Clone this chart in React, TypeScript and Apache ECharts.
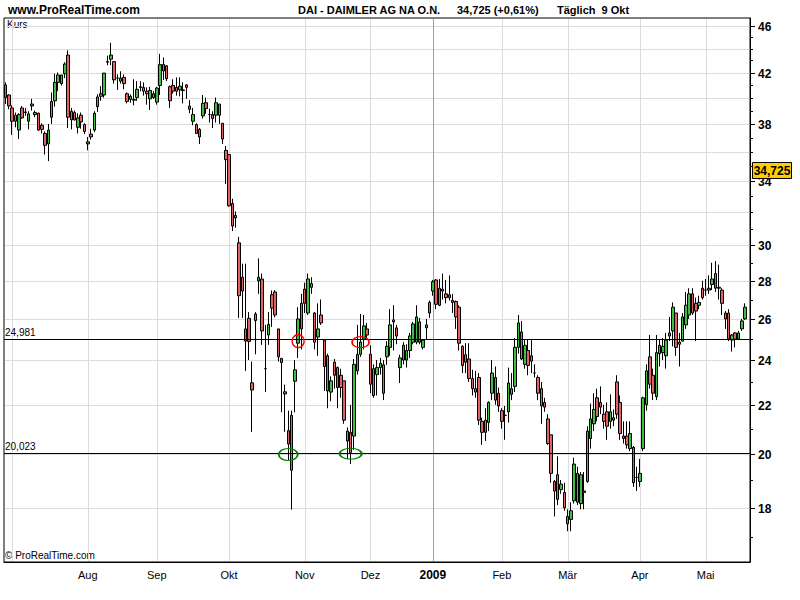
import React, { useEffect, useRef } from "react";
import * as echarts from "echarts";

// ---- data (DAI daily candles) ----
// order of each candle: open, close, low, high (arrays kept separate)
const opens: number[] = [
  41.0, 40.2, 39.2, 38.65, 37.55, 39.2, 38.9, 38.2, 39.35, 38.7,
  38.8, 37.9, 37.3, 36.55, 38.5, 39.75, 41.2, 41.8, 41.9, 43.45,
  38.3, 38.85, 37.75, 38.65, 37.95, 36.55, 37.25, 37.55, 39.3, 40.1,
  40.2, 42.9, 43.1, 42.9, 41.55, 41.3, 41.6, 40.3, 39.85, 39.8,
  40.0, 40.8, 40.5, 40.5, 39.9, 40.3, 39.65, 40.95, 42.13, 42.55,
  40.85, 40.95, 40.8, 40.6, 40.6, 41.0, 39.35, 38.2, 37.95, 37.6,
  38.6, 39.6, 38.7, 38.7, 38.65, 39.5, 38.05, 36.1, 35.8, 32.55,
  31.65, 30.15, 28.2, 25.5, 26.03, 22.96, 25.92, 28.0, 28.1, 23.6,
  25.2, 27.25, 27.4, 25.5, 24.08, 22.56, 20.92, 21.55, 23.03, 24.8,
  25.5, 27.55, 26.3, 27.85, 26.3, 25.1, 26.2, 24.95, 24.2, 22.55,
  23.9, 23.65, 23.3, 23.05, 20.9, 20.85, 20.7, 23.5, 24.27, 25.0,
  25.5, 24.27, 22.4, 23.33, 23.65, 23.78, 24.15, 24.6, 25.85, 25.55,
  23.65, 24.7, 24.0, 24.45, 24.85, 24.85, 25.85, 24.6, 25.55, 26.3,
  27.45, 28.05, 26.7, 27.55, 27.3, 27.25, 26.95, 26.9, 26.6, 24.65,
  24.25, 24.05, 23.15, 22.55, 23.2, 21.3, 20.85, 21.25, 22.5, 23.2,
  22.5, 21.75, 21.55, 21.7, 22.45, 22.8, 24.6, 25.35, 23.8, 24.45,
  23.95, 23.4, 23.2, 22.7, 22.1, 21.4, 20.75, 18.95, 19.2, 18.65,
  18.55, 17.7, 17.6, 18.25, 19.25, 18.15, 18.6, 18.95, 20.6, 21.2,
  22.3, 22.1, 21.6, 21.7, 21.3, 21.45, 23.0, 22.1, 20.7, 20.7, 20.2,
  20.25, 19.1, 18.95, 20.2, 22.0, 24.15, 23.3, 22.35, 24.3, 24.35,
  24.2, 25.15, 25.4, 26.3, 24.85, 24.9, 25.7, 26.2, 27.3, 26.8,
  26.7, 27.6, 27.5, 27.5, 27.8, 28.4, 27.65, 27.5, 26.3, 26.3,
  24.95, 25.3, 25.0, 25.5, 26.0,
];
const closes: number[] = [
  40.0, 39.35, 38.2, 38.2, 38.7, 38.45, 38.85, 38.75, 39.5, 38.85,
  37.55, 37.6, 36.45, 37.55, 39.7, 41.2, 41.8, 41.1, 42.7, 38.5,
  38.95, 38.3, 38.45, 38.15, 37.45, 36.7, 37.05, 38.8, 40.05, 40.3,
  41.95, 42.85, 43.45, 41.4, 41.55, 41.55, 41.1, 39.7, 40.1, 39.85,
  40.65, 40.85, 40.8, 40.3, 40.55, 40.0, 40.75, 42.65, 42.67, 41.5,
  39.75, 40.5, 40.5, 40.9, 40.55, 40.8, 39.1, 38.7, 37.3, 37.05,
  39.55, 39.15, 38.7, 38.4, 39.6, 38.65, 36.9, 35.45, 32.4, 31.15,
  31.8, 27.2, 27.45, 24.9, 24.88, 22.64, 26.25, 28.2, 25.4, 23.6,
  25.72, 26.55, 26.2, 24.15, 23.88, 22.47, 20.38, 19.37, 23.55, 26.0,
  26.8, 26.8, 28.1, 27.65, 24.85, 25.5, 25.8, 23.7, 22.6, 23.05,
  23.3, 22.75, 22.75, 21.35, 20.5, 20.05, 23.8, 24.27, 24.86, 25.65,
  25.2, 22.9, 23.6, 23.65, 23.85, 22.5, 24.65, 25.7, 25.95, 25.15,
  24.1, 24.0, 24.45, 25.15, 25.75, 26.1, 24.85, 24.95, 25.7, 26.85,
  27.95, 26.75, 27.6, 27.45, 27.1, 27.1, 26.85, 26.1, 24.8, 23.75,
  23.9, 23.15, 22.7, 22.7, 21.35, 20.85, 21.35, 22.1, 23.4, 22.2,
  21.95, 21.3, 21.55, 22.95, 22.7, 24.6, 25.8, 24.05, 24.7, 23.75,
  24.2, 23.4, 22.5, 21.95, 21.9, 20.4, 19.25, 18.6, 18.3, 18.85,
  18.0, 17.45, 17.9, 19.6, 18.2, 19.2, 18.55, 20.9, 21.4, 21.8,
  21.5, 21.9, 21.3, 21.1, 21.7, 21.35, 21.6, 20.8, 20.6, 20.35, 20.8,
  18.9, 19.1, 19.25, 22.3, 23.5, 22.9, 22.5, 24.35, 24.7, 24.65,
  24.95, 25.3, 26.6, 24.6, 24.75, 26.1, 26.7, 27.3, 26.3, 26.4,
  26.85, 27.1, 27.5, 27.6, 28.1, 27.6, 27.6, 26.8, 26.0, 25.0,
  25.2, 25.0, 25.3, 25.9, 26.6,
];
const lows: number[] = [
  39.5, 39.1, 37.2, 37.75, 36.9, 38.4, 38.6, 37.6, 39.0, 38.5,
  37.5, 37.3, 35.8, 35.35, 38.0, 39.3, 40.5, 40.95, 41.55, 37.7,
  37.6, 38.25, 37.3, 37.65, 37.25, 36.1, 36.85, 37.4, 38.9, 39.75,
  40.0, 42.6, 42.6, 41.1, 40.6, 41.1, 40.65, 39.55, 39.6, 39.4,
  39.75, 40.5, 40.15, 39.45, 39.05, 39.9, 39.45, 40.2, 41.4, 41.3,
  39.2, 40.3, 40.15, 40.1, 39.55, 39.9, 38.8, 37.9, 37.3, 36.55,
  38.4, 38.75, 38.1, 37.7, 38.1, 38.0, 36.55, 33.8, 32.35, 30.85,
  31.05, 26.05, 26.05, 23.5, 24.0, 20.87, 24.27, 27.3, 24.72, 22.55,
  24.72, 25.6, 26.08, 23.93, 21.68, 20.87, 19.72, 17.94, 21.68, 24.1,
  24.5, 26.3, 26.2, 27.3, 24.5, 24.2, 25.7, 22.6, 21.85, 22.15,
  22.7, 21.85, 22.3, 21.2, 19.8, 19.6, 20.15, 23.33, 24.15, 24.5,
  25.0, 22.5, 22.3, 22.4, 23.33, 22.2, 23.78, 24.2, 24.45, 24.75,
  22.95, 23.8, 23.65, 24.1, 24.75, 24.75, 24.75, 24.5, 25.0, 26.05,
  27.2, 26.5, 26.65, 27.0, 26.8, 26.95, 26.3, 25.5, 24.45, 23.4,
  23.4, 23.0, 22.4, 22.3, 21.15, 20.35, 20.5, 20.9, 22.2, 22.0,
  21.7, 21.0, 20.55, 21.25, 22.2, 22.55, 24.3, 24.0, 23.6, 23.3,
  23.4, 23.2, 22.2, 21.2, 21.7, 20.35, 18.9, 17.7, 18.1, 18.5,
  17.9, 17.2, 17.2, 18.15, 18.1, 17.95, 17.95, 18.9, 20.2, 20.9,
  21.3, 21.6, 21.0, 20.55, 21.0, 21.1, 21.4, 20.55, 20.4, 20.2, 20.1,
  18.75, 18.6, 18.75, 20.1, 21.75, 22.7, 22.2, 22.2, 23.7, 24.0,
  23.6, 24.9, 24.65, 24.2, 23.7, 24.9, 25.5, 26.0, 26.2, 24.9,
  26.5, 27.0, 27.2, 27.3, 27.5, 27.4, 27.0, 26.2, 25.5, 24.9,
  24.4, 24.6, 24.95, 25.4, 25.95,
];
const highs: number[] = [
  41.2, 40.25, 39.4, 38.85, 38.8, 39.35, 39.2, 38.95, 39.9, 39.0,
  38.85, 38.05, 37.45, 38.0, 40.4, 41.9, 42.0, 41.8, 42.85, 43.85,
  39.2, 39.0, 38.8, 38.85, 38.05, 37.05, 37.65, 38.95, 40.25, 40.9,
  41.95, 43.4, 44.5, 42.9, 41.85, 42.1, 41.85, 40.4, 40.25, 41.45,
  41.3, 41.3, 41.2, 40.8, 40.85, 40.5, 40.85, 43.55, 43.25, 42.6,
  40.95, 41.45, 41.6, 41.6, 41.2, 41.05, 39.8, 39.2, 38.05, 37.7,
  40.2, 40.0, 39.15, 38.95, 40.0, 39.5, 38.05, 36.4, 35.85, 32.85,
  32.05, 30.5, 28.95, 28.95, 26.35, 23.93, 26.35, 29.25, 28.4, 25.7,
  26.35, 27.48, 27.5, 25.5, 24.08, 22.88, 21.75, 21.75, 24.0, 26.6,
  27.3, 27.9, 28.4, 28.2, 26.35, 26.8, 27.0, 24.95, 24.3, 23.25,
  24.05, 23.7, 23.6, 23.05, 21.05, 22.0, 24.05, 25.7, 26.25, 26.2,
  25.8, 24.7, 23.8, 24.0, 24.1, 24.0, 24.9, 26.5, 26.7, 25.7,
  24.25, 24.85, 24.75, 25.3, 25.85, 26.7, 26.05, 25.0, 26.0, 26.95,
  28.05, 28.1, 28.1, 28.4, 28.05, 28.3, 27.3, 26.95, 26.7, 24.7,
  24.8, 24.8, 23.55, 23.5, 23.4, 21.45, 21.85, 22.15, 24.0, 23.7,
  22.75, 21.85, 21.95, 23.65, 23.4, 25.05, 26.2, 25.9, 25.0, 25.0,
  24.95, 23.8, 23.3, 23.0, 22.3, 21.6, 20.75, 19.0, 19.9, 19.0,
  18.9, 17.95, 18.2, 19.85, 19.5, 19.3, 19.3, 21.1, 22.05, 22.5,
  22.7, 22.8, 22.0, 22.1, 22.45, 21.8, 23.3, 22.4, 21.3, 21.3, 21.3,
  20.3, 19.5, 19.8, 22.35, 23.8, 25.2, 23.6, 25.2, 25.0, 25.05,
  25.3, 26.1, 26.85, 26.3, 25.3, 26.3, 27.4, 27.6, 27.6, 27.1,
  27.2, 28.0, 28.1, 28.3, 29.0, 29.1, 28.9, 27.6, 26.4, 26.5,
  25.25, 25.35, 25.4, 26.0, 26.8,
];

// calendar: trading days from the first candle, one empty slot at the end
const startDate = "2008-06-27";
const slotCount = 227;
const exchangeHolidays = [
  "2008-12-24", "2008-12-25", "2008-12-26", "2008-12-31",
  "2009-01-01", "2009-04-10", "2009-04-13", "2009-05-01",
];
const monthNames = ["Jan", "Feb", "Mär", "Apr", "Mai", "Jun", "Jul", "Aug", "Sep", "Okt", "Nov", "Dez"];
const labelledMonths = [
  "2008-08", "2008-09", "2008-10", "2008-11", "2008-12",
  "2009-01", "2009-02", "2009-03", "2009-04", "2009-05",
];

// price axis
const majorTicks = [46, 42, 38, 34, 30, 28, 26, 24, 22, 20, 18];
const minorTicks = [17, 19, 21, 23, 25, 27, 29, 31, 32, 33, 35, 36, 37, 39, 40, 41, 43, 44, 45];
const gridLevels = [18, 20, 22, 24, 26, 28, 30, 32, 34, 36, 38, 40, 42, 44, 46];
const supportLevels = [24.981, 20.023];
const lastPrice = 34.725;

// annotations
const redCircleDates = ["2008-10-30", "2008-11-26"];
const redCirclePrices = [24.9, 24.85];
const greenOvalDates = ["2008-10-27", "2008-11-21"];
const greenOvalPrices = [19.97, 20.0];

function buildTradingDays(start: string, count: number, skip: string[]): string[] {
  const out: string[] = [];
  const d = new Date(start + "T00:00:00Z");
  while (out.length < count) {
    const dow = d.getUTCDay();
    const s = d.toISOString().slice(0, 10);
    if (dow !== 0 && dow !== 6 && skip.indexOf(s) < 0) out.push(s);
    d.setUTCDate(d.getUTCDate() + 1);
  }
  return out;
}

const fmtDe = (v: number) => v.toFixed(3).replace(".", ",");
const FONT = '"Liberation Sans", Arial, Helvetica, sans-serif';
const ellipsePath = "path://M0,5A5,5,0,1,1,10,5A5,5,0,1,1,0,5Z";

export default function App() {
  const ref = useRef<HTMLDivElement>(null);

  useEffect(() => {
    if (!ref.current) return;
    const chart = echarts.init(ref.current, undefined, { renderer: "svg" });

    const dates = buildTradingDays(startDate, slotCount, exchangeHolidays);
    const monthStarts: number[] = [];
    dates.forEach((d, i) => {
      if (i > 0 && d.slice(0, 7) !== dates[i - 1].slice(0, 7)) monthStarts.push(i);
    });
    const labelled = new Set(monthStarts.filter((i) => labelledMonths.indexOf(dates[i].slice(0, 7)) >= 0));

    const candles = opens.map((o, i) => [o, closes[i], lows[i], highs[i]]);

    const option: any = {
      animation: false,
      backgroundColor: "#ffffff",
      grid: {
        left: 4, right: 50, top: 18, bottom: 38,
        show: true, borderColor: "#000", borderWidth: 1, backgroundColor: "transparent",
      },
      xAxis: {
        type: "category",
        data: dates,
        boundaryGap: true,
        axisLine: { lineStyle: { color: "#000", width: 1 } },
        axisTick: {
          alignWithLabel: true,
          interval: (i: number) => labelled.has(i),
          length: 4,
          lineStyle: { color: "#000" },
        },
        axisLabel: {
          interval: (i: number) => labelled.has(i),
          formatter: (v: string) => {
            const m = parseInt(v.slice(5, 7), 10);
            return m === 1 ? "{y|" + v.slice(0, 4) + "}" : monthNames[m - 1];
          },
          color: "#000",
          fontSize: 11,
          fontFamily: FONT,
          margin: 7,
          rich: { y: { fontWeight: "bold", fontSize: 12, fontFamily: FONT, color: "#000" } },
        },
        splitLine: { show: false },
      },
      yAxis: {
        type: "log",
        position: "right",
        min: 16.2,
        max: 46.7,
        axisLine: { show: true, lineStyle: { color: "#000" } },
        axisTick: { show: false },
        axisLabel: { show: false },
        splitLine: { show: false },
      },
      graphic: [
        { type: "text", left: 8, top: 4, style: { text: "www.ProRealTime.com", fill: "#000", fontSize: 12, fontWeight: "bold", fontFamily: FONT } },
        { type: "text", left: 298, top: 4, style: { text: "DAI - DAIMLER AG NA O.N.", fill: "#000", fontSize: 11, fontWeight: "bold", fontFamily: FONT } },
        { type: "text", left: 457, top: 4, style: { text: "34,725 (+0,61%)", fill: "#000", fontSize: 11, fontWeight: "bold", fontFamily: FONT } },
        { type: "text", left: 557, top: 4, style: { text: "Täglich  9 Okt", fill: "#000", fontSize: 11, fontWeight: "bold", fontFamily: FONT } },
        { type: "text", left: 7, top: 19, style: { text: "Kurs", fill: "#000", fontSize: 10, fontFamily: FONT } },
        { type: "text", left: 5, top: 550, style: { text: "© ProRealTime.com", fill: "#000", fontSize: 10, fontFamily: FONT } },
      ],
      series: [
        {
          // horizontal price grid
          type: "custom",
          silent: true,
          z: 1,
          data: gridLevels.map((v) => [0, v]),
          encode: { x: 0, y: 1 },
          renderItem: (params: any, api: any) => {
            const cs = params.coordSys;
            const y = Math.round(api.coord([0, api.value(1)])[1]) + 0.5;
            return {
              type: "line",
              shape: { x1: cs.x + 1, y1: y, x2: cs.x + cs.width - 1, y2: y },
              style: { stroke: "#dcdcdc", lineWidth: 1 },
            };
          },
        },
        {
          // vertical month grid
          type: "custom",
          silent: true,
          z: 1,
          data: monthStarts.map((i) => [i, 30, dates[i].slice(5, 7) === "01" ? 1 : 0]),
          encode: { x: 0, y: 1 },
          renderItem: (params: any, api: any) => {
            const cs = params.coordSys;
            const x = Math.round(api.coord([api.value(0), 30])[0]) + 0.5;
            return {
              type: "line",
              shape: { x1: x, y1: cs.y + 1, x2: x, y2: cs.y + cs.height - 1 },
              style: { stroke: api.value(2) === 1 ? "#a0a0a0" : "#dcdcdc", lineWidth: 1 },
            };
          },
        },
        {
          type: "candlestick",
          z: 3,
          data: candles,
          barWidth: 3,
          itemStyle: {
            color: "#3fbf3f",
            color0: "#e06262",
            borderColor: "#000",
            borderColor0: "#000",
            borderColorDoji: "#000",
            borderWidth: 1,
          },
          markLine: {
            silent: true,
            precision: 3,
            symbol: ["none", "none"],
            lineStyle: { color: "#000", width: 1, type: "solid" },
            label: {
              show: true,
              position: "insideStartTop",
              formatter: (p: any) => fmtDe(supportLevels[p.dataIndex]),
              color: "#000",
              fontSize: 10,
              fontFamily: FONT,
              distance: [1, 2],
            },
            emphasis: { disabled: true },
            data: supportLevels.map((v) => ({ yAxis: v })),
          },
          markPoint: {
            silent: true,
            label: { show: false },
            data: [
              ...redCircleDates.map((d, i) => ({
                coord: [d, redCirclePrices[i]],
                symbol: ellipsePath,
                symbolSize: i === 0 ? [12, 13] : [17, 11],
                itemStyle: { color: "transparent", borderColor: "#ff0000", borderWidth: 1.5 },
              })),
              ...greenOvalDates.map((d, i) => ({
                coord: [d, greenOvalPrices[i]],
                symbol: ellipsePath,
                symbolSize: i === 0 ? [19, 12] : [22, 11],
                itemStyle: { color: "transparent", borderColor: "#008000", borderWidth: 1.5 },
              })),
            ],
          },
        },
        {
          // price axis ticks, labels and last-price tag
          type: "custom",
          silent: true,
          z: 10,
          data: [
            ...minorTicks.map((v) => [0, v, 0]),
            ...majorTicks.map((v) => [0, v, 1]),
            [0, lastPrice, 2],
          ],
          encode: { x: 0, y: 1 },
          renderItem: (params: any, api: any) => {
            const cs = params.coordSys;
            const v = api.value(1);
            const kind = api.value(2);
            const y = Math.round(api.coord([0, v])[1]) + 0.5;
            const x0 = cs.x + cs.width;
            if (kind === 2) {
              return {
                type: "group",
                children: [
                  {
                    type: "rect",
                    shape: { x: Math.round(x0) + 2.5, y: y - 8, width: 39, height: 16 },
                    style: { fill: "#ffcc00", stroke: "#000", lineWidth: 1 },
                  },
                  {
                    type: "text",
                    x: Math.round(x0) + 22,
                    y: y + 0.5,
                    style: {
                      text: fmtDe(v), fill: "#000", fontSize: 12, fontWeight: "bold", fontFamily: FONT,
                      align: "center", verticalAlign: "middle",
                    },
                  },
                ],
              };
            }
            const len = kind === 1 ? 5 : 3;
            const children: any[] = [
              { type: "line", shape: { x1: x0, y1: y, x2: x0 + len, y2: y }, style: { stroke: "#000", lineWidth: 1 } },
            ];
            if (kind === 1) {
              children.push({
                type: "text",
                x: x0 + 8,
                y: y,
                style: {
                  text: String(v), fill: "#000", fontSize: 12, fontWeight: "bold", fontFamily: FONT,
                  align: "left", verticalAlign: "middle",
                },
              });
            }
            return { type: "group", children };
          },
        },
      ],
    };

    chart.setOption(option);
    return () => chart.dispose();
  }, []);

  return (
    <div
      ref={ref}
      style={{ position: "absolute", left: 0, top: 0, width: 800, height: 600, background: "#fff" }}
    />
  );
}
